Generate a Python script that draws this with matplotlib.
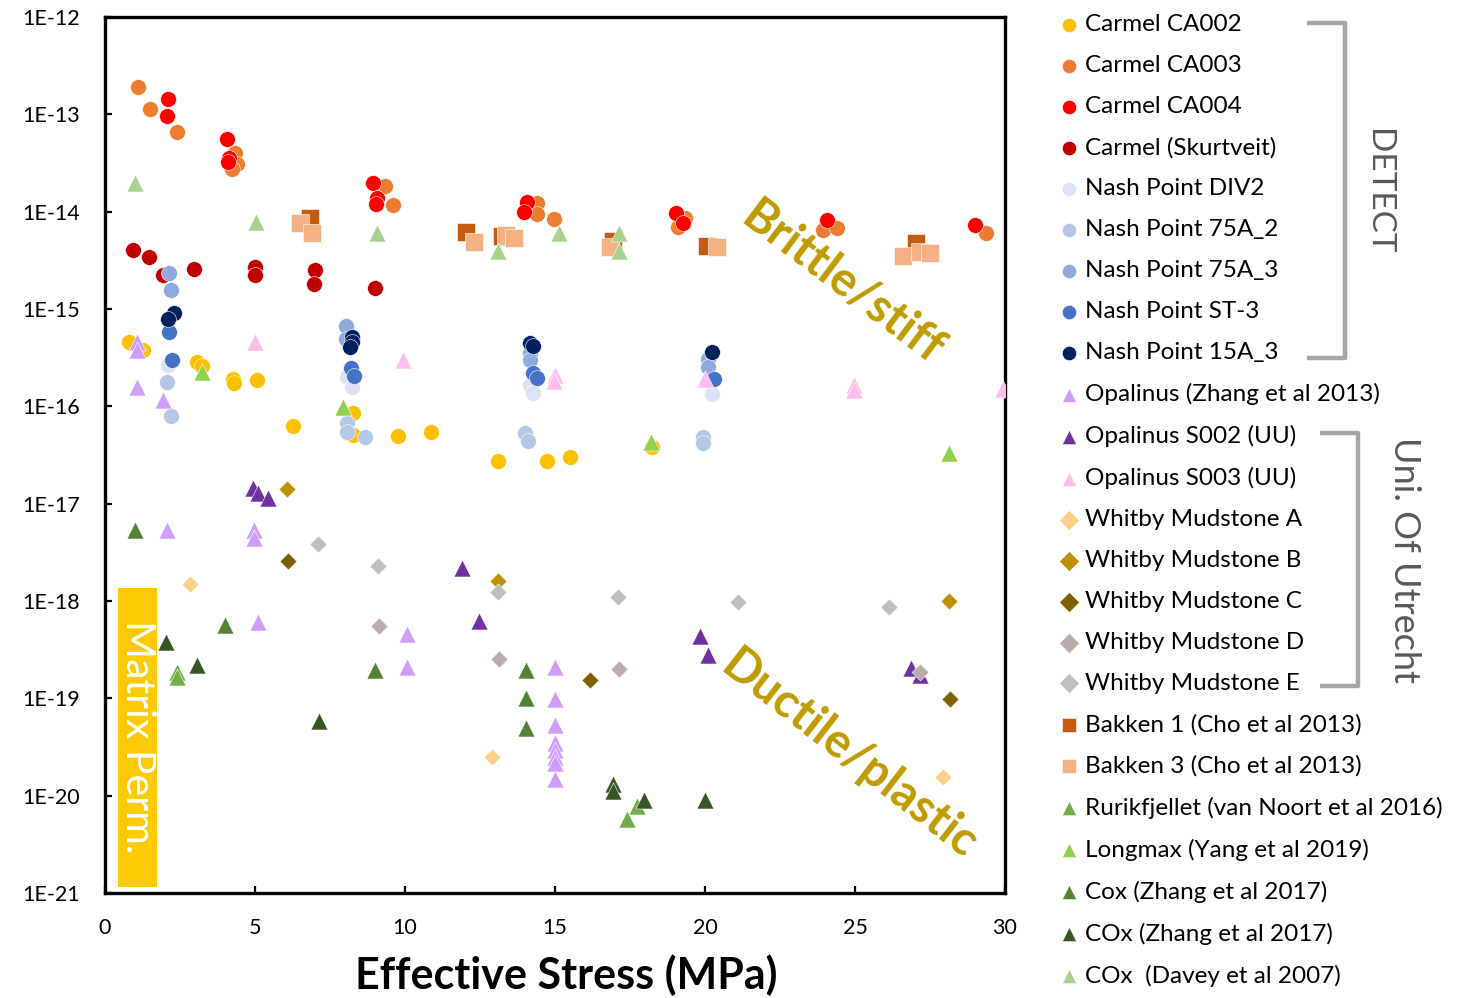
import matplotlib
matplotlib.use("Agg")
import matplotlib.pyplot as plt
from matplotlib.patches import Rectangle

# ---------------- data (effective stress MPa, permeability m^2) ----------------
ca002_x = [0.8, 1.27, 3.07, 3.23, 4.27, 4.3, 5.07, 6.27, 8.27, 8.27, 9.77, 10.87, 13.1, 14.73, 15.5, 18.23]
ca002_y = [4.6e-16, 3.8e-16, 2.85e-16, 2.6e-16, 1.9e-16, 1.74e-16, 1.86e-16, 6.3e-17, 8.5e-17, 5.1e-17,
           4.95e-17, 5.4e-17, 2.75e-17, 2.75e-17, 3.0e-17, 3.8e-17]

ca003_x = [1.1, 1.5, 2.4, 4.33, 4.4, 4.23, 9.33, 9.6, 14.4, 14.4, 14.97, 19.33, 19.1, 23.93, 24.4, 29.37]
ca003_y = [1.9e-13, 1.13e-13, 6.6e-14, 4.0e-14, 3.1e-14, 2.75e-14, 1.84e-14, 1.17e-14, 1.23e-14, 9.5e-15,
           8.4e-15, 8.6e-15, 6.95e-15, 6.5e-15, 6.8e-15, 6.0e-15]

ca004_x = [2.1, 2.07, 4.07, 4.13, 4.1, 8.93, 9.07, 9.03, 14.07, 13.97, 19.03, 19.27, 24.07, 29.0]
ca004_y = [1.43e-13, 9.6e-14, 5.6e-14, 3.6e-14, 3.2e-14, 1.97e-14, 1.38e-14, 1.2e-14, 1.26e-14, 1.0e-14,
           9.7e-15, 7.6e-15, 8.2e-15, 7.3e-15]

skurt_x = [0.93, 1.47, 1.93, 2.97, 5.0, 5.0, 7.0, 6.97, 9.0]
skurt_y = [4.0e-15, 3.4e-15, 2.23e-15, 2.6e-15, 2.7e-15, 2.23e-15, 2.5e-15, 1.8e-15, 1.64e-15]

div2_x = [2.1, 8.07, 8.23, 14.17, 14.27, 20.23]
div2_y = [2.66e-16, 2.0e-16, 1.58e-16, 1.66e-16, 1.37e-16, 1.34e-16]

a752_x = [2.07, 2.2, 8.07, 8.07, 8.67, 14.0, 14.1, 19.93, 19.93]
a752_y = [1.78e-16, 8.0e-17, 6.7e-17, 5.45e-17, 4.8e-17, 5.3e-17, 4.4e-17, 4.8e-17, 4.2e-17]

a753_x = [2.13, 2.2, 8.03, 8.03, 14.17, 14.17, 20.1, 20.1]
a753_y = [2.34e-15, 1.57e-15, 6.7e-16, 4.9e-16, 3.5e-16, 3.0e-16, 3.06e-16, 2.54e-16]

st3_x = [2.13, 2.23, 8.2, 8.3, 14.27, 14.4, 20.3]
st3_y = [5.8e-16, 3.0e-16, 2.48e-16, 2.05e-16, 2.2e-16, 1.95e-16, 1.91e-16]

a153_x = [2.3, 2.1, 8.23, 8.23, 8.17, 14.17, 14.27, 20.23]
a153_y = [9.1e-16, 7.9e-16, 5.15e-16, 4.6e-16, 4.07e-16, 4.5e-16, 4.2e-16, 3.6e-16]

opz_x = [1.07, 1.07, 1.07, 1.93, 2.07, 4.97, 4.97, 5.1, 10.07, 10.07, 15.0, 15.0, 15.0, 15.0, 15.0, 15.0, 15.0, 15.0]
opz_y = [4.6e-16, 3.8e-16, 1.58e-16, 1.16e-16, 5.4e-18, 5.4e-18, 4.4e-18, 6.1e-19, 4.6e-19, 2.1e-19,
         2.1e-19, 9.8e-20, 5.3e-20, 3.5e-20, 2.95e-20, 2.5e-20, 2.16e-20, 1.5e-20]

s002_x = [4.93, 5.1, 5.43, 11.9, 12.47, 19.83, 20.1, 26.87, 27.17]
s002_y = [1.45e-17, 1.29e-17, 1.14e-17, 2.2e-18, 6.2e-19, 4.4e-19, 2.8e-19, 2.05e-19, 1.74e-19]

s003_x = [5.0, 9.93, 15.0, 14.97, 20.0, 24.97, 24.97, 29.93]
s003_y = [4.6e-16, 3.0e-16, 2.1e-16, 1.82e-16, 1.91e-16, 1.66e-16, 1.47e-16, 1.5e-16]

wa_x = [2.83, 12.9, 27.93]
wa_y = [1.5e-18, 2.5e-20, 1.55e-20]
wb_x = [6.07, 13.1, 28.13]
wb_y = [1.42e-17, 1.6e-18, 1.0e-18]
wc_x = [6.1, 16.17, 28.17]
wc_y = [2.58e-18, 1.54e-19, 9.8e-20]
wd_x = [9.13, 13.13, 17.13, 27.17]
wd_y = [5.5e-19, 2.53e-19, 2.0e-19, 1.86e-19]
we_x = [7.1, 9.1, 13.1, 17.1, 21.1, 26.13]
we_y = [3.85e-18, 2.3e-18, 1.24e-18, 1.1e-18, 9.8e-19, 8.7e-19]

bk1_x = [6.83, 12.03, 13.23, 16.93, 20.07, 27.03]
bk1_y = [8.6e-15, 6.2e-15, 5.6e-15, 5.0e-15, 4.4e-15, 4.8e-15]
bk3_x = [6.5, 6.9, 12.3, 13.37, 13.63, 16.83, 20.4, 26.6, 27.17, 27.5]
bk3_y = [7.6e-15, 6.0e-15, 4.9e-15, 5.75e-15, 5.35e-15, 4.3e-15, 4.3e-15, 3.5e-15, 3.85e-15, 3.76e-15]

rur_x = [2.4, 2.4, 17.4, 17.73]
rur_y = [1.86e-19, 1.65e-19, 5.75e-21, 7.8e-21]
lmx_x = [3.23, 7.93, 18.2, 28.13]
lmx_y = [2.25e-16, 9.85e-17, 4.3e-17, 3.3e-17]
coxa_x = [1.0, 4.0, 9.0, 14.03, 14.03, 14.03]
coxa_y = [5.4e-18, 5.7e-19, 1.95e-19, 1.95e-19, 1.0e-19, 4.95e-20]
coxb_x = [2.03, 3.07, 7.13, 16.93, 16.93, 17.97, 20.0]
coxb_y = [3.8e-19, 2.2e-19, 5.85e-20, 1.32e-20, 1.12e-20, 9.0e-21, 9.0e-21]
coxd_x = [1.0, 5.03, 9.07, 13.1, 15.13, 17.13, 17.13]
coxd_y = [1.97e-14, 7.8e-15, 6.0e-15, 3.95e-15, 6.0e-15, 6.0e-15, 3.95e-15]

series = [
    ("Carmel CA002", ca002_x, ca002_y, "o", "#FFC000"),
    ("Carmel CA003", ca003_x, ca003_y, "o", "#ED7D31"),
    ("Carmel CA004", ca004_x, ca004_y, "o", "#FF0000"),
    ("Carmel (Skurtveit)", skurt_x, skurt_y, "o", "#C00000"),
    ("Nash Point DIV2", div2_x, div2_y, "o", "#DAE3F3"),
    ("Nash Point 75A_2", a752_x, a752_y, "o", "#B4C7E7"),
    ("Nash Point 75A_3", a753_x, a753_y, "o", "#8FAADC"),
    ("Nash Point ST-3", st3_x, st3_y, "o", "#4472C4"),
    ("Nash Point 15A_3", a153_x, a153_y, "o", "#002060"),
    ("Opalinus (Zhang et al 2013)", opz_x, opz_y, "^", "#D09EFA"),
    ("Opalinus S002 (UU)", s002_x, s002_y, "^", "#7030A0"),
    ("Opalinus S003 (UU)", s003_x, s003_y, "^", "#FFBDEF"),
    ("Whitby Mudstone A", wa_x, wa_y, "D", "#FFD08A"),
    ("Whitby Mudstone B", wb_x, wb_y, "D", "#BF9000"),
    ("Whitby Mudstone C", wc_x, wc_y, "D", "#7F6000"),
    ("Whitby Mudstone D", wd_x, wd_y, "D", "#BCABA8"),
    ("Whitby Mudstone E", we_x, we_y, "D", "#BFBFBF"),
    ("Bakken 1 (Cho et al 2013)", bk1_x, bk1_y, "s", "#C55A11"),
    ("Bakken 3 (Cho et al 2013)", bk3_x, bk3_y, "s", "#F4B183"),
    ("Rurikfjellet (van Noort et al 2016)", rur_x, rur_y, "^", "#70AD47"),
    ("Longmax (Yang et al 2019)", lmx_x, lmx_y, "^", "#92D050"),
    ("Cox (Zhang et al 2017)", coxa_x, coxa_y, "^", "#548235"),
    ("COx (Zhang et al 2017)", coxb_x, coxb_y, "^", "#375623"),
    ("COx  (Davey et al 2007)", coxd_x, coxd_y, "^", "#A9D18E"),
]

sizes = {"o": 130, "^": 150, "D": 75, "s": 150}

W, H = 1461, 998
fig = plt.figure(figsize=(W / 100, H / 100), dpi=100)
ax = fig.add_axes([105 / W, 1 - 893 / H, 900 / W, 876 / H])

handles = []
for i, (lab, xs, ys, m, c) in enumerate(series):
    h = ax.scatter(xs, ys, marker=m, s=sizes[m], color=c, edgecolors="white",
                   linewidths=0.4, label=lab, zorder=3 + i * 0.01)
    handles.append(h)

ax.set_yscale("log")
ax.set_ylim(1e-21, 1e-12)
ax.set_xlim(0, 30)
ax.set_xticks([0, 5, 10, 15, 20, 25, 30])
yt = [10.0 ** e for e in range(-21, -11)]
ax.set_yticks(yt)
ax.set_yticklabels([f"1E-{-e}" for e in range(-21, -11)])
ax.minorticks_off()
ax.tick_params(direction="in", length=5, width=1.6, labelsize=15.5, colors="black")
ax.tick_params(axis="y", pad=18)
ax.tick_params(axis="x", pad=18)
for lab in ax.get_xticklabels() + ax.get_yticklabels():
    lab.set_fontfamily("Lato")
for sp in ax.spines.values():
    sp.set_linewidth(2.4)
    sp.set_color("black")

ax.set_xlabel("Effective Stress (MPa)", fontsize=31, fontweight="bold", family="Lato",
              va="top")
ax.xaxis.set_label_coords(0.512, (893 - 954) / 876)

# Matrix permeability band
ax.add_patch(Rectangle((0.43, 1.15e-21), 1.3, 1.36e-18 - 1.15e-21, facecolor="#FCCB06",
                       edgecolor="none", zorder=2))
ax.text(1.08, 4.0e-20, "Matrix Perm.", rotation=-90, color="white", fontsize=29.5,
        family="Lato", ha="center", va="center", zorder=4)

gold = "#BF9B00"
ax.text(24.57, 1.85e-15, "Brittle/stiff", rotation=-37, color=gold, fontsize=34,
        fontweight="bold", family="Lato", ha="center", va="center", zorder=5,
        rotation_mode="anchor")
ax.text(24.8, 2.62e-20, "Ductile/plastic", rotation=-37.8, color=gold, fontsize=34,
        fontweight="bold", family="Lato", ha="center", va="center", zorder=5,
        rotation_mode="anchor")

# legend
fs = 17.5
leg = fig.legend(handles=handles, loc="upper left", bbox_to_anchor=(1058 / W, 1 - 14 / H),
                 frameon=False, labelspacing=0.82, handletextpad=0.22,
                 handlelength=0.89, borderpad=0, borderaxespad=0, scatterpoints=1,
                 prop={"family": "Lato", "size": fs})
for h in leg.legend_handles:
    h.set_sizes([105])

# bracket overlay (pixel space)
ov = fig.add_axes([0, 0, 1, 1], facecolor="none")
ov.set_xlim(0, W)
ov.set_ylim(H, 0)
ov.axis("off")
gray = "#A6A6A6"
ov.plot([1307, 1345, 1345, 1307], [23, 23, 358, 358], color=gray, lw=3.2,
        solid_joinstyle="round", solid_capstyle="butt")
ov.plot([1320, 1358, 1358, 1320], [433, 433, 686, 686], color=gray, lw=3.2,
        solid_joinstyle="round", solid_capstyle="butt")
ov.text(1378, 192, "DETECT", rotation=-90, fontsize=24, color="#595959",
        family="Lato", ha="center", va="center")
ov.text(1405, 560, "Uni. Of Utrecht", rotation=-90, fontsize=26, color="#595959",
        family="Lato", ha="center", va="center")

fig.savefig("out.png", dpi=100)
